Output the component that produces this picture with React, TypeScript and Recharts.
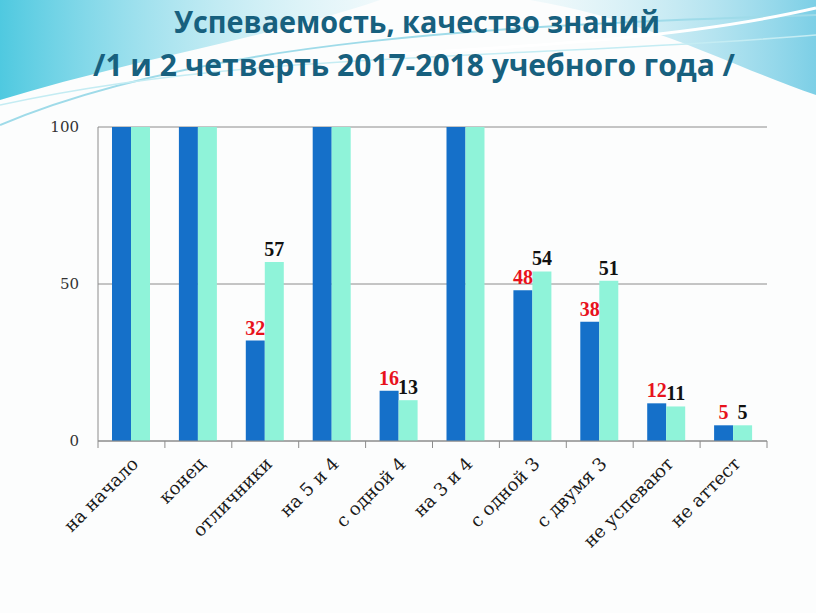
import React from 'react';
import { BarChart, Bar, XAxis, YAxis, CartesianGrid, LabelList } from 'recharts';

// categories and values
const categories = [
  'на начало',
  'конец',
  'отличники',
  'на 5 и 4',
  'с одной 4',
  'на 3 и 4',
  'с одной 3',
  'с двумя 3',
  'не успевают',
  'не аттест',
];
const firstQuarter = [100, 100, 32, 100, 16, 100, 48, 38, 12, 5];
const secondQuarter = [100, 100, 57, 100, 13, 100, 54, 51, 11, 5];
const yTicks = [0, 50, 100];

const titleLine1 = 'Успеваемость, качество знаний';
const titleLine2 = '/1 и 2 четверть 2017-2018 учебного года /';

const data = categories.map((name, i) => ({
  name,
  q1: firstQuarter[i],
  q2: secondQuarter[i],
}));

const W = 816;
const H = 613;
const LEFT = 98;
const RIGHT_MARGIN = 49;
const BAND = (W - LEFT - RIGHT_MARGIN) / categories.length;

const SERIF = '"DejaVu Serif", "Liberation Serif", serif';
const LABEL_FONT = '"Liberation Serif", serif';
const DARK = '#1570c9';
const LIGHT = '#8ff3d9';

const CategoryTick = (props: any) => {
  const { x, y, payload, index } = props;
  const left = x - BAND / 2;
  const right = x + BAND / 2;
  return (
    <g>
      <line x1={left} y1={y} x2={left} y2={y + 7} stroke="#8c8c8c" />
      {index === categories.length - 1 && (
        <line x1={right} y1={y} x2={right} y2={y + 7} stroke="#8c8c8c" />
      )}
      <text
        x={x + 8}
        y={y + 24}
        transform={`rotate(-45 ${x + 8} ${y + 24})`}
        textAnchor="end"
        fontFamily={SERIF}
        fontSize={18}
        fill="#1a1a1a"
      >
        {payload.value}
      </text>
    </g>
  );
};

const makeLabel = (color: string) => (props: any) => {
  const { x, y, width, value } = props;
  if (value === 100) return null;
  return (
    <text
      x={x + width / 2}
      y={y - 6}
      textAnchor="middle"
      fontFamily={LABEL_FONT}
      fontWeight="bold"
      fontSize={20}
      fill={color}
    >
      {value}
    </text>
  );
};

const Backdrop = () => (
  <svg width={W} height={H} style={{ position: 'absolute', left: 0, top: 0 }}>
    <defs>
      <linearGradient id="tl" x1="0" y1="0" x2="1" y2="0">
        <stop offset="0" stopColor="#4fc9e0" />
        <stop offset="1" stopColor="#bfe9f3" stopOpacity="0.2" />
      </linearGradient>
      <linearGradient id="tr" x1="0" y1="0" x2="1" y2="0">
        <stop offset="0" stopColor="#d8f1f6" stopOpacity="0.3" />
        <stop offset="1" stopColor="#7ccfe6" />
      </linearGradient>
    </defs>
    <rect width={W} height={H} fill="#fcfdfd" />
    <path d="M0,0 L380,0 C280,35 130,60 0,100 Z" fill="url(#tl)" />
    <path d="M530,0 L816,0 L816,95 C740,70 650,20 530,0 Z" fill="url(#tr)" />
    <path d="M0,125 C200,40 500,25 816,15" stroke="#9fdbe9" strokeWidth={2} fill="none" />
    <path d="M0,105 C250,50 520,60 816,35" stroke="#c4ecf3" strokeWidth={1.5} fill="none" />
    <path d="M380,55 C560,45 700,35 816,8" stroke="#ffffff" strokeWidth={3} fill="none" />
  </svg>
);

export default function App() {
  return (
    <div style={{ position: 'absolute', left: 0, top: 0, width: W, height: H, overflow: 'hidden' }}>
      <Backdrop />
      <svg width={W} height={110} style={{ position: 'absolute', left: 0, top: 0 }}>
        <text
          x={417}
          y={33}
          textAnchor="middle"
          textLength={486}
          lengthAdjust="spacingAndGlyphs"
          fontFamily='"Open Sans", sans-serif'
          fontWeight="bold"
          fontSize={31}
          fill="#17607e"
        >
          {titleLine1}
        </text>
        <text
          x={414}
          y={76}
          textAnchor="middle"
          textLength={642}
          lengthAdjust="spacingAndGlyphs"
          fontFamily='"Open Sans", sans-serif'
          fontWeight="bold"
          fontSize={31}
          fill="#17607e"
        >
          {titleLine2}
        </text>
      </svg>
      <div style={{ position: 'absolute', left: 0, top: 0 }}>
        <BarChart
          width={W}
          height={H}
          data={data}
          margin={{ top: 127, right: RIGHT_MARGIN, left: 0, bottom: 0 }}
          barSize={19}
          barGap={0}
        >
          <CartesianGrid vertical={false} stroke="#8c8c8c" />
          <XAxis
            dataKey="name"
            height={H - 441}
            interval={0}
            axisLine={{ stroke: '#8c8c8c' }}
            tickLine={false}
            tickSize={0}
            tickMargin={0}
            tick={<CategoryTick />}
          />
          <YAxis
            width={LEFT}
            domain={[0, 100]}
            ticks={yTicks}
            axisLine={{ stroke: '#8c8c8c' }}
            tickLine={false}
            tickSize={8}
            tickMargin={11}
            tick={{ fontFamily: SERIF, fontSize: 15, fill: '#333333' }}
          />
          <Bar dataKey="q1" fill={DARK} isAnimationActive={false}>
            <LabelList dataKey="q1" content={makeLabel('#e8121c')} />
          </Bar>
          <Bar dataKey="q2" fill={LIGHT} isAnimationActive={false}>
            <LabelList dataKey="q2" content={makeLabel('#111111')} />
          </Bar>
        </BarChart>
      </div>
    </div>
  );
}
